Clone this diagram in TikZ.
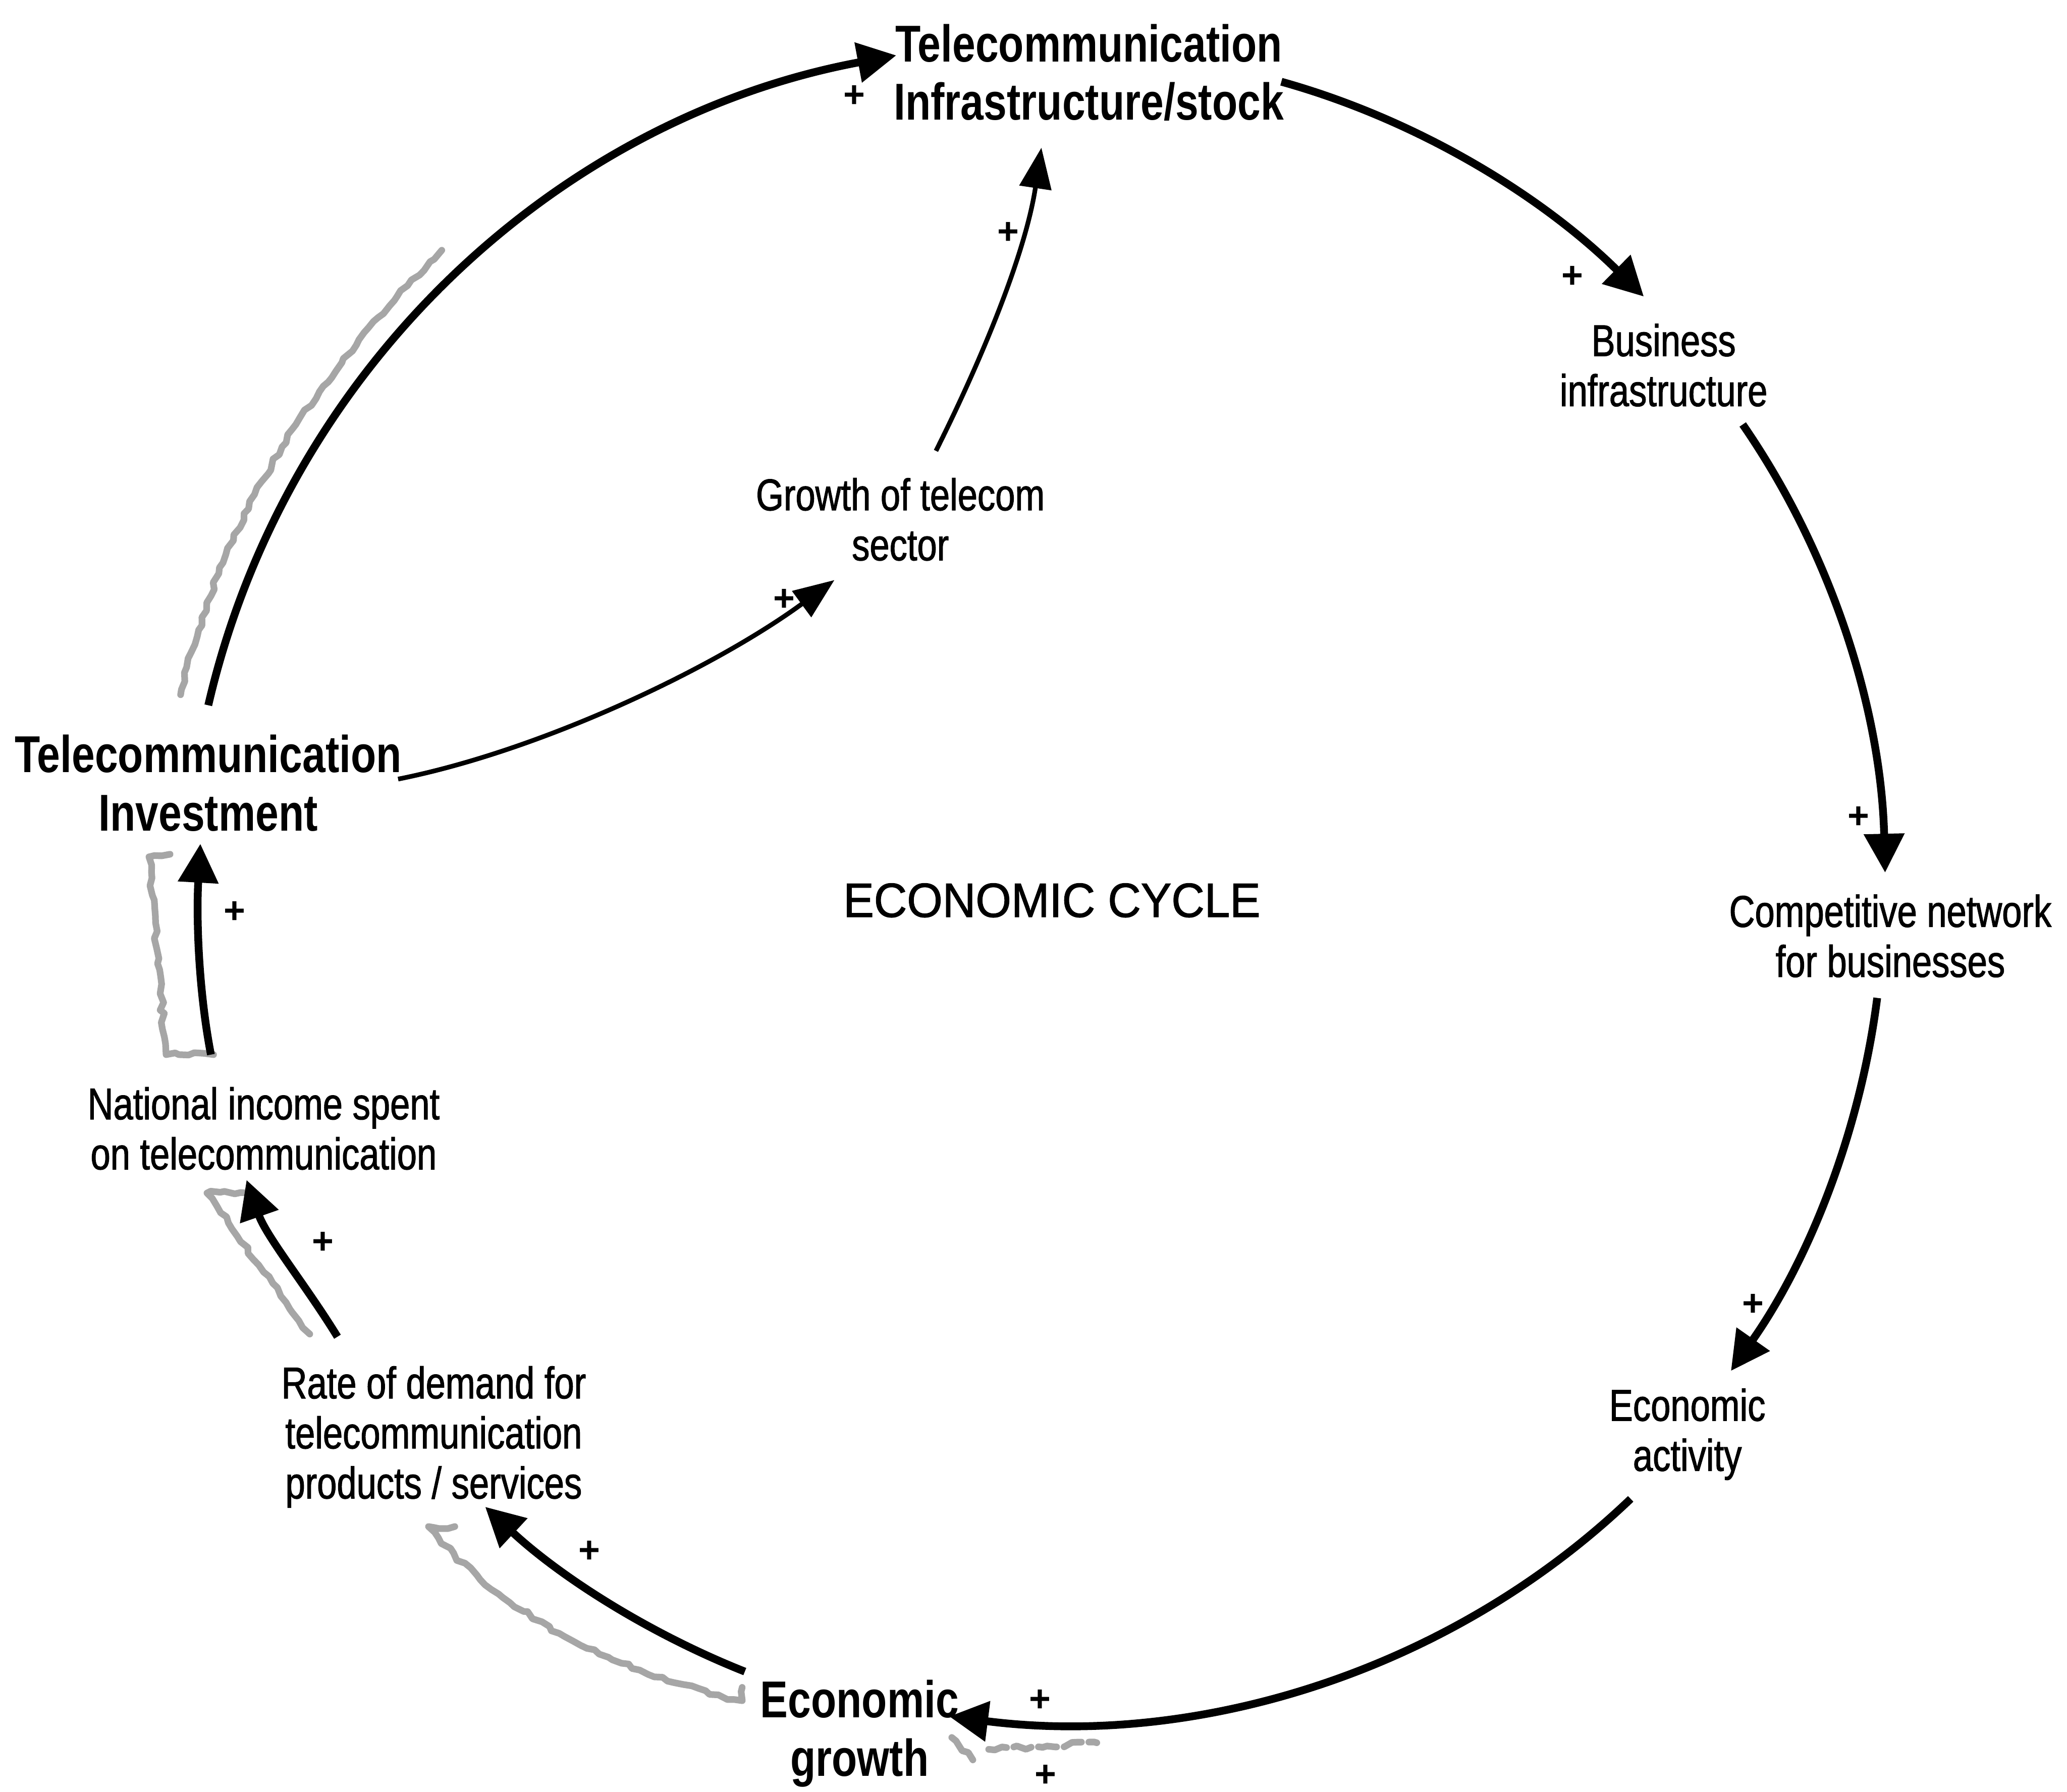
\documentclass[tikz,border=0pt]{standalone}
\usepackage{fontspec}
\setmainfont{Liberation Sans}
\newfontfamily\condfont{Liberation Sans}[FakeStretch=0.8]
\newfontfamily\condheavy{Liberation Sans}[FakeStretch=0.8, FakeBold=1.3]
\newfontfamily\capsfont{Liberation Sans}[FakeStretch=0.95, FakeBold=1.3]
\usetikzlibrary{arrows.meta,calc,decorations.pathmorphing}

\tikzset{
  keylabel/.style={font=\condfont\bfseries\fontsize{28}{31.5}\selectfont, align=center, inner sep=0pt},
  varlabel/.style={font=\condheavy\fontsize{24}{27}\selectfont, align=center, inner sep=0pt},
  titlelabel/.style={font=\capsfont\fontsize{26}{29}\selectfont, inner sep=0pt},
  sign/.style={font=\bfseries\fontsize{20}{20}\selectfont, inner sep=0pt},
  link/.style={line width=4.2pt, -{Triangle[length=21pt,width=21pt]}},
  thinlink/.style={line width=2.5pt, -{Triangle[length=22pt,width=17pt]}},
  smudge/.style={black!35, line width=3.6pt, line cap=round, line join=round,
    decorate, decoration={random steps, segment length=4pt, amplitude=1.2pt}},
}

\begin{document}
\begin{tikzpicture}[x=0.25mm, y=-0.25mm]
  \useasboundingbox (0,0) rectangle (1568,1359);

  % variables of the loop
  \node[keylabel] (infra) at (826,55)   {Telecommunication\\Infrastructure/stock};
  \node[varlabel] (bus)   at (1262,277) {Business\\infrastructure};
  \node[varlabel] (comp)  at (1434,710) {Competitive network\\for businesses};
  \node[varlabel] (act)   at (1280,1088) {Economic\\activity};
  \node[keylabel] (grow)  at (652,1315) {Economic\\growth};
  \node[varlabel] (rate)  at (329,1090) {Rate of demand for\\telecommunication\\products / services};
  \node[varlabel] (nat)   at (200,856)  {National income spent\\on telecommunication};
  \node[keylabel] (inv)   at (158,594)  {Telecommunication\\Investment};
  \node[varlabel] (sect)  at (683,394)  {Growth of telecom\\sector};
  \node[titlelabel] (cycle) at (798,683) {ECONOMIC CYCLE};

  % grey shadow strokes beside some links
  \draw[smudge] (137,527) .. controls (167,397) and (239,282) .. (335,190);
  \draw[smudge] (129,648) -- (113,650) -- (119,720) -- (126,800) -- (162,800);
  \draw[smudge] (188,905) -- (157,905) -- (200,965) -- (235,1012);
  \draw[smudge] (345,1158) -- (325,1158) .. controls (380,1225) and (470,1270) .. (563,1290) -- (563,1280);
  \draw[smudge] (722,1318) -- (738,1335);
  \draw[smudge, dash pattern=on 10pt off 4pt] (750,1327) -- (832,1322);

  % main loop
  \draw[link] ($(inv)+(0,-59)$)    .. controls +(59,-255) and +(-258,48) .. ($(infra)+(-146,-13)$);
  \draw[link] ($(infra)+(146,7)$)  .. controls +(104,29) and +(-77,-76) .. ($(bus)+(-15,-52)$);
  \draw[link] ($(bus)+(60,45)$)    .. controls +(69,100) and +(-3,-121) .. ($(comp)+(-4,-48)$);
  \draw[link] ($(comp)+(-10,47)$)  .. controls +(-13,102) and +(59,-84) .. ($(act)+(33,-48)$);
  \draw[link] ($(act)+(-43,49)$)   .. controls +(-137,131) and +(188,24) .. ($(grow)+(68,-13)$);
  \draw[link] ($(grow)+(-87,-47)$) .. controls +(-73,-29) and +(57,53) .. ($(rate)+(39,53)$);
  \draw[link] ($(rate)+(-73,-76)$) .. controls +(-24,-39) and +(15,43) .. ($(nat)+(-13,39)$);
  \draw[link] ($(nat)+(-40,-56)$)  .. controls +(-10,-52) and +(-3,53) .. ($(inv)+(-6,46)$);

  % inner branch through the telecom sector
  \draw[thinlink] ($(inv)+(144,-3)$)  .. controls +(110,-22) and +(-90,66) .. ($(sect)+(-50,46)$);
  \draw[thinlink] ($(sect)+(27,-52)$) .. controls +(35,-70) and +(-12,80) .. ($(infra)+(-36,57)$);

  % link polarities
  \node[sign] (p1)  at (648,73)   {+};
  \node[sign] (p2)  at (1193,210) {+};
  \node[sign] (p3)  at (1410,620) {+};
  \node[sign] (p4)  at (1330,990) {+};
  \node[sign] (p5)  at (789,1290) {+};
  \node[sign] (p5b) at (793,1347) {+};
  \node[sign] (p6)  at (447,1177) {+};
  \node[sign] (p7)  at (245,943)  {+};
  \node[sign] (p8)  at (178,692)  {+};
  \node[sign] (p9)  at (595,455)  {+};
  \node[sign] (p10) at (765,177)  {+};
\end{tikzpicture}
\end{document}
